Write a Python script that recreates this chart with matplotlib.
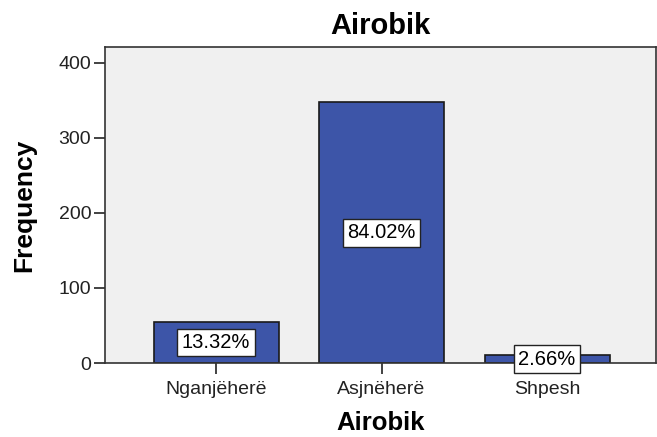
import matplotlib
matplotlib.use('Agg')
import matplotlib.pyplot as plt

categories = ['Nganjëherë', 'Asjnëherë', 'Shpesh']
counts = [55, 347, 11]
percent_labels = ['13.32%', '84.02%', '2.66%']

plt.rcParams['font.family'] = ['Liberation Sans', 'DejaVu Sans']

fig = plt.figure(figsize=(6.57, 4.37), dpi=100)
ax = fig.add_axes([0.160, 0.169, 0.839, 0.724])
ax.set_facecolor('#F0F0F0')

x = list(range(len(categories)))
ax.bar(x, counts, width=0.755, color='#3D55A8', edgecolor='#1a1a1a', linewidth=1.2, zorder=2)

# percentage boxes in the middle of each bar
for xi, c, lab in zip(x, counts, percent_labels):
    ax.text(xi, c / 2, lab, ha='center', va='center', fontsize=14.5, zorder=3,
            bbox=dict(boxstyle='square,pad=0.22', facecolor='white', edgecolor='#222222', linewidth=1.0))

ax.set_xlim(-0.67, 2.66)
ax.set_ylim(0, 421)
ax.set_yticks([0, 100, 200, 300, 400])
ax.set_xticks(x)
ax.set_xticklabels(categories)
ax.tick_params(axis='both', direction='out', length=8, width=1.2, labelsize=14, colors='#222222', pad=2)
ax.tick_params(axis='x', pad=5)
for s in ax.spines.values():
    s.set_color('#333333')
    s.set_linewidth(1.2)

ax.set_title('Airobik', fontsize=21, fontweight='bold', pad=9)
ax.set_xlabel('Airobik', fontsize=18.5, fontweight='bold', labelpad=9.5)
ax.set_ylabel('Frequency', fontsize=19, fontweight='bold', labelpad=16)

fig.savefig('out.png', dpi=100)
